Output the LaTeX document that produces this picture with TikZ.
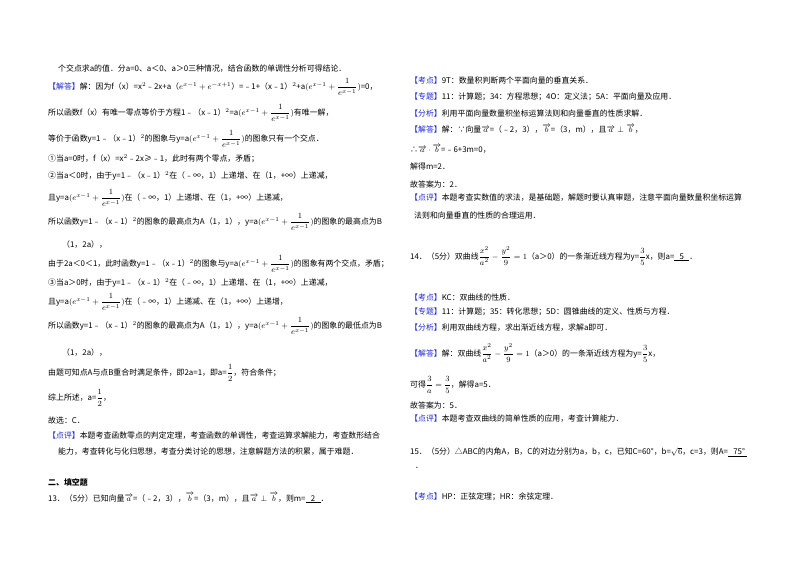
\documentclass[tikz,border=0pt]{standalone}
\usepackage{amsmath}
\usepackage{fontspec}
\setmainfont{Noto Sans CJK SC}
\definecolor{lblue}{RGB}{30,40,220}
\newcommand{\lb}[1]{\textcolor{lblue}{【#1】}}
\newcommand{\va}{\overrightarrow{a}}
\newcommand{\vb}{\overrightarrow{b}}
\newcommand{\ee}{(e^{x-1}+\dfrac{1}{e^{x-1}})}
\begin{document}
\begin{tikzpicture}[x=1pt,y=-1pt,ln/.style={anchor=west,inner sep=0pt,font=\fontsize{7.9}{9}\selectfont}]
\useasboundingbox (0,0) rectangle (800,565);
\fill[white] (0,0) rectangle (800,565);
\node[ln] (l1) at (58,69) {个交点求a的值．分a=0、a＜0、a＞0三种情况，结合函数的单调性分析可得结论．};
\node[ln] (l2) at (48,87) {\lb{解答}解：因为f（x）=x$^2$﹣2x+a（$e^{x-1}+e^{-x+1}$）=﹣1+（x﹣1）$^2$+a$\ee$=0，};
\node[ln] (l3) at (48,113) {所以函数f（x）有唯一零点等价于方程1﹣（x﹣1）$^2$=a$\ee$有唯一解，};
\node[ln] (l4) at (48,139) {等价于函数y=1﹣（x﹣1）$^2$的图象与y=a$\ee$的图象只有一个交点．};
\node[ln] (l5) at (48,159) {①当a=0时，f（x）=x$^2$﹣2x≥﹣1，此时有两个零点，矛盾；};
\node[ln] (l6) at (48,176) {②当a＜0时，由于y=1﹣（x﹣1）$^2$在（﹣∞，1）上递增、在（1，+∞）上递减，};
\node[ln] (l7) at (48,198) {且y=a$\ee$在（﹣∞，1）上递增、在（1，+∞）上递减，};
\node[ln] (l8) at (48,222) {所以函数y=1﹣（x﹣1）$^2$的图象的最高点为A（1，1），y=a$\ee$的图象的最高点为B};
\node[ln] (l9) at (62,245) {（1，2a），};
\node[ln] (l10) at (48,264) {由于2a＜0＜1，此时函数y=1﹣（x﹣1）$^2$的图象与y=a$\ee$的图象有两个交点，矛盾；};
\node[ln] (l11) at (48,283) {③当a＞0时，由于y=1﹣（x﹣1）$^2$在（﹣∞，1）上递增、在（1，+∞）上递减，};
\node[ln] (l12) at (48,302) {且y=a$\ee$在（﹣∞，1）上递减、在（1，+∞）上递增，};
\node[ln] (l13) at (48,326) {所以函数y=1﹣（x﹣1）$^2$的图象的最高点为A（1，1），y=a$\ee$的图象的最低点为B};
\node[ln] (l14) at (62,353) {（1，2a），};
\node[ln] (l15) at (48,373) {由题可知点A与点B重合时满足条件，即2a=1，即a=$\dfrac{1}{2}$，符合条件；};
\node[ln] (l16) at (48,398) {综上所述，a=$\dfrac{1}{2}$，};
\node[ln] (l17) at (48,420) {故选：C．};
\node[ln] (l18) at (48,436) {\lb{点评}本题考查函数零点的判定定理，考查函数的单调性，考查运算求解能力，考查数形结合};
\node[ln] (l19) at (58,452) {能力，考查转化与化归思想，考查分类讨论的思想，注意解题方法的积累，属于难题．};
\node[ln,font=\fontsize{7.9}{9}\selectfont\bfseries] (l20) at (48,482) {二、填空题};
\node[ln] (l21) at (48,498) {13．（5分）已知向量$\va$=（﹣2，3），$\vb$=（3，m），且$\va\perp\vb$，则m=\underline{\ \ \ 2\ \ \ }．};
\node[ln] (r1) at (410,80) {\lb{考点}9T：数量积判断两个平面向量的垂直关系．};
\node[ln] (r2) at (410,97) {\lb{专题}11：计算题；34：方程思想；4O：定义法；5A：平面向量及应用．};
\node[ln] (r3) at (410,113) {\lb{分析}利用平面向量数量积坐标运算法则和向量垂直的性质求解．};
\node[ln] (r4) at (410,129) {\lb{解答}解：∵向量$\va$=（﹣2，3），$\vb$=（3，m），且$\va\perp\vb$，};
\node[ln] (r5) at (410,149) {∴$\va\cdot\vb$=﹣6+3m=0，};
\node[ln] (r6) at (410,167) {解得m=2．};
\node[ln] (r7) at (410,184) {故答案为：2．};
\node[ln] (r8) at (410,198) {\lb{点评}本题考查实数值的求法，是基础题，解题时要认真审题，注意平面向量数量积坐标运算};
\node[ln] (r9) at (414,215) {法则和向量垂直的性质的合理运用．};
\node[ln] (r10) at (410,256) {14．（5分）双曲线$\dfrac{x^2}{a^2}-\dfrac{y^2}{9}=1$（a＞0）的一条渐近线方程为y=$\dfrac{3}{5}$x，则a=\underline{\ \ \ 5\ \ \ }．};
\node[ln] (r11) at (410,297) {\lb{考点}KC：双曲线的性质．};
\node[ln] (r12) at (410,312) {\lb{专题}11：计算题；35：转化思想；5D：圆锥曲线的定义、性质与方程．};
\node[ln] (r13) at (410,328) {\lb{分析}利用双曲线方程，求出渐近线方程，求解a即可．};
\node[ln] (r14) at (410,353) {\lb{解答}解：双曲线$\dfrac{x^2}{a^2}-\dfrac{y^2}{9}=1$（a＞0）的一条渐近线方程为y=$\dfrac{3}{5}$x，};
\node[ln] (r15) at (410,385) {可得$\dfrac{3}{a}=\dfrac{3}{5}$，解得a=5．};
\node[ln] (r16) at (410,405) {故答案为：5．};
\node[ln] (r17) at (410,419) {\lb{点评}本题考查双曲线的简单性质的应用，考查计算能力．};
\node[ln] (r18) at (410,452) {15．（5分）△ABC的内角A，B，C的对边分别为a，b，c，已知C=60°，b=$\sqrt{6}$，c=3，则A=\underline{\ \ \ 75°\ }};
\node[ln] (r19) at (415,468) {．};
\node[ln] (r20) at (410,497) {\lb{考点}HP：正弦定理；HR：余弦定理．};
\end{tikzpicture}
\end{document}
